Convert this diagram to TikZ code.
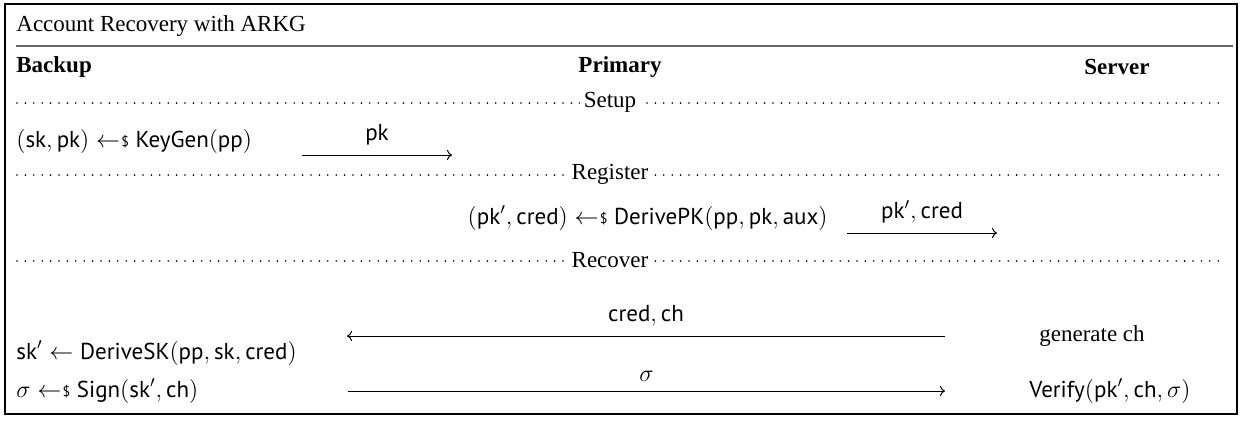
\documentclass[tikz,border=0pt]{standalone}
\usepackage{fontspec}
\setmainfont{Liberation Serif}
\setsansfont{PT Sans}
\usepackage{amsmath}
\usetikzlibrary{arrows.meta}
\newcommand{\nm}[1]{\textsf{#1}}
\newcommand{\smp}{\mathrel{\leftarrow\mkern-4mu\raisebox{0.05ex}{\textsf{\fontsize{7}{7}\selectfont\$}}}}
\tikzset{
  msg/.style={line width=0.5pt,-{To[length=2.5pt,width=5pt]}},
  sep/.style={line width=0.9pt,dash pattern=on 0pt off 4.2pt,line cap=round},
  seplabel/.style={fill=white,inner sep=2pt},
  txt/.style={anchor=west,inner sep=0pt},
  lbl/.style={inner sep=0pt},
  hdr/.style={inner sep=0pt,font=\fontsize{11.5}{13}\selectfont\bfseries}
}
\begin{document}
\begin{tikzpicture}[x=0.5pt,y=-0.5pt,font=\fontsize{11.5}{13}\selectfont]
\useasboundingbox (0,0) rectangle (1242,420);
\draw[line width=0.7pt] (5,4) rectangle (1237,414);
\node[txt] (title) at (16,26) {Account Recovery with ARKG};
\coordinate (tl) at (16,46);
\coordinate (tr) at (1233,46);
\draw[line width=0.7pt,gray!80!black] (tl) -- (tr);
\node[hdr,anchor=west] (hb) at (16,67) {Backup};
\node[hdr] (hp) at (620,67) {Primary};
\node[hdr] (hs) at (1117,67) {Server};
% separators
\coordinate (s1l) at (17,103); \coordinate (s1r) at (1226,103);
\draw[sep] (s1l) -- (s1r);
\node[seplabel] (s1) at (610,102) {Setup};
\coordinate (s2l) at (17,175); \coordinate (s2r) at (1226,175);
\draw[sep] (s2l) -- (s2r);
\node[seplabel] (s2) at (610,174) {Register};
\coordinate (s3l) at (17,261); \coordinate (s3r) at (1226,261);
\draw[sep] (s3l) -- (s3r);
\node[seplabel] (s3) at (610,260) {Recover};
% setup
\node[txt] (kg) at (16,141) {$(\nm{sk},\nm{pk}) \smp \nm{KeyGen}(\nm{pp})$};
\coordinate (a1s) at (302,155); \coordinate (a1e) at (452,155);
\draw[msg] (a1s) -- node[lbl,above=4.5pt] (l1) {$\nm{pk}$} (a1e);
% register
\node[inner sep=0pt,anchor=east] (dpk) at (828,218) {$(\nm{pk}',\nm{cred}) \smp \nm{DerivePK}(\nm{pp},\nm{pk},\nm{aux})$};
\coordinate (a2s) at (847,233); \coordinate (a2e) at (997,233);
\draw[msg] (a2s) -- node[lbl,above=4.5pt] (l2) {$\nm{pk}',\nm{cred}$} (a2e);
% recover
\coordinate (a3s) at (945,336); \coordinate (a3e) at (347,336);
\draw[msg] (a3s) -- node[lbl,above=4.5pt] (l3) {$\nm{cred},\nm{ch}$} (a3e);
\node[lbl] (gen) at (1092,336) {generate ch};
\node[txt] (dsk) at (16,353) {$\nm{sk}' \leftarrow \nm{DeriveSK}(\nm{pp},\nm{sk},\nm{cred})$};
\node[txt] (sg) at (16,391) {$\sigma \smp \nm{Sign}(\nm{sk}',\nm{ch})$};
\coordinate (a4s) at (348,391); \coordinate (a4e) at (945,391);
\draw[msg] (a4s) -- node[lbl,above=4.5pt] (l4) {$\sigma$} (a4e);
\node[lbl] (ver) at (1110,391) {$\nm{Verify}(\nm{pk}',\nm{ch},\sigma)$};
\end{tikzpicture}
\end{document}
